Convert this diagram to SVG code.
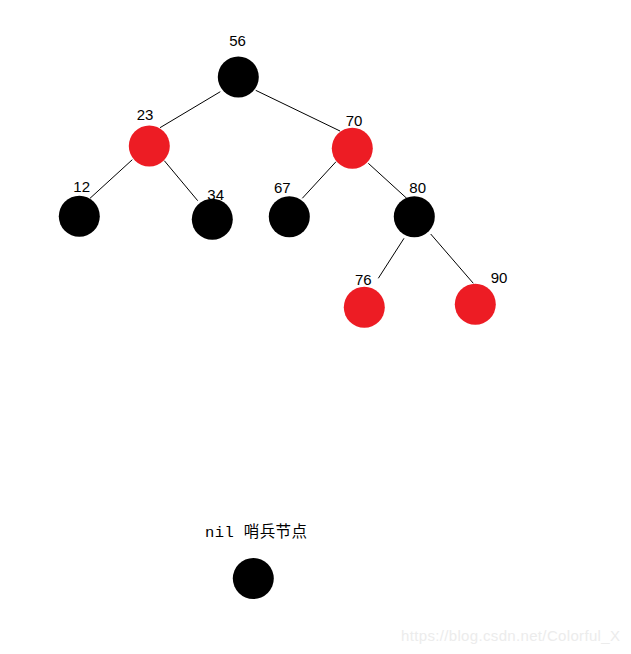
<svg xmlns="http://www.w3.org/2000/svg" width="631" height="654" viewBox="0 0 631 654">
<style>
.b{fill:#000}
.r{fill:#ED1C24}
.t{font-family:"Liberation Sans",Arial,sans-serif;font-size:15px;fill:#000;text-anchor:middle}
.e line{stroke:#000;stroke-width:1}
</style>
<rect width="631" height="654" fill="#fff"/>
<g class="e" id="edges">
<line x1="220.3" y1="91.7" x2="160" y2="127.7"/>
<line x1="255.7" y1="90.3" x2="340" y2="131"/>
<line x1="132.3" y1="159.7" x2="90" y2="198.3"/>
<line x1="164.3" y1="160.7" x2="197.7" y2="200.7"/>
<line x1="336" y1="161.7" x2="302.3" y2="198.3"/>
<line x1="368.3" y1="163.3" x2="406.7" y2="198.3"/>
<line x1="404" y1="238.3" x2="378.3" y2="278.3"/>
<line x1="430.7" y1="234" x2="473.3" y2="283.3"/>
</g>
<g id="n56"><circle class="b" cx="238.3" cy="77" r="20.5"/><text class="t" x="237.5" y="46">56</text></g>
<g id="n23"><circle class="r" cx="149.3" cy="146" r="20.5"/><text class="t" x="145" y="120">23</text></g>
<g id="n70"><circle class="r" cx="352.3" cy="148.3" r="20.5"/><text class="t" x="354" y="126">70</text></g>
<g id="n12"><circle class="b" cx="79.3" cy="216.3" r="20.5"/><text class="t" x="81.7" y="192">12</text></g>
<g id="n34"><circle class="b" cx="212.3" cy="219.3" r="20.5"/><text class="t" x="215.7" y="200">34</text></g>
<g id="n67"><circle class="b" cx="289.3" cy="216.7" r="20.5"/><text class="t" x="282.3" y="192.5">67</text></g>
<g id="n80"><circle class="b" cx="414.3" cy="216.7" r="20.5"/><text class="t" x="417.7" y="192.5">80</text></g>
<g id="n76"><circle class="r" cx="364.3" cy="307.3" r="20.5"/><text class="t" x="363.3" y="285">76</text></g>
<g id="n90"><circle class="r" cx="475.3" cy="304.3" r="20.5"/><text class="t" x="499" y="283">90</text></g>
<g id="nil"><circle class="b" cx="253.3" cy="578.5" r="20.5"/><text x="205" y="537" textLength="102" style="font-family:'Liberation Mono','Noto Sans CJK SC',monospace;font-size:15.5px;fill:#000">nil 哨兵节点</text></g>
<text x="401" y="641" textLength="219" style="font-family:'Liberation Sans',Arial,sans-serif;font-size:15px;fill:#ececec">https://blog.csdn.net/Colorful_X</text>
</svg>
